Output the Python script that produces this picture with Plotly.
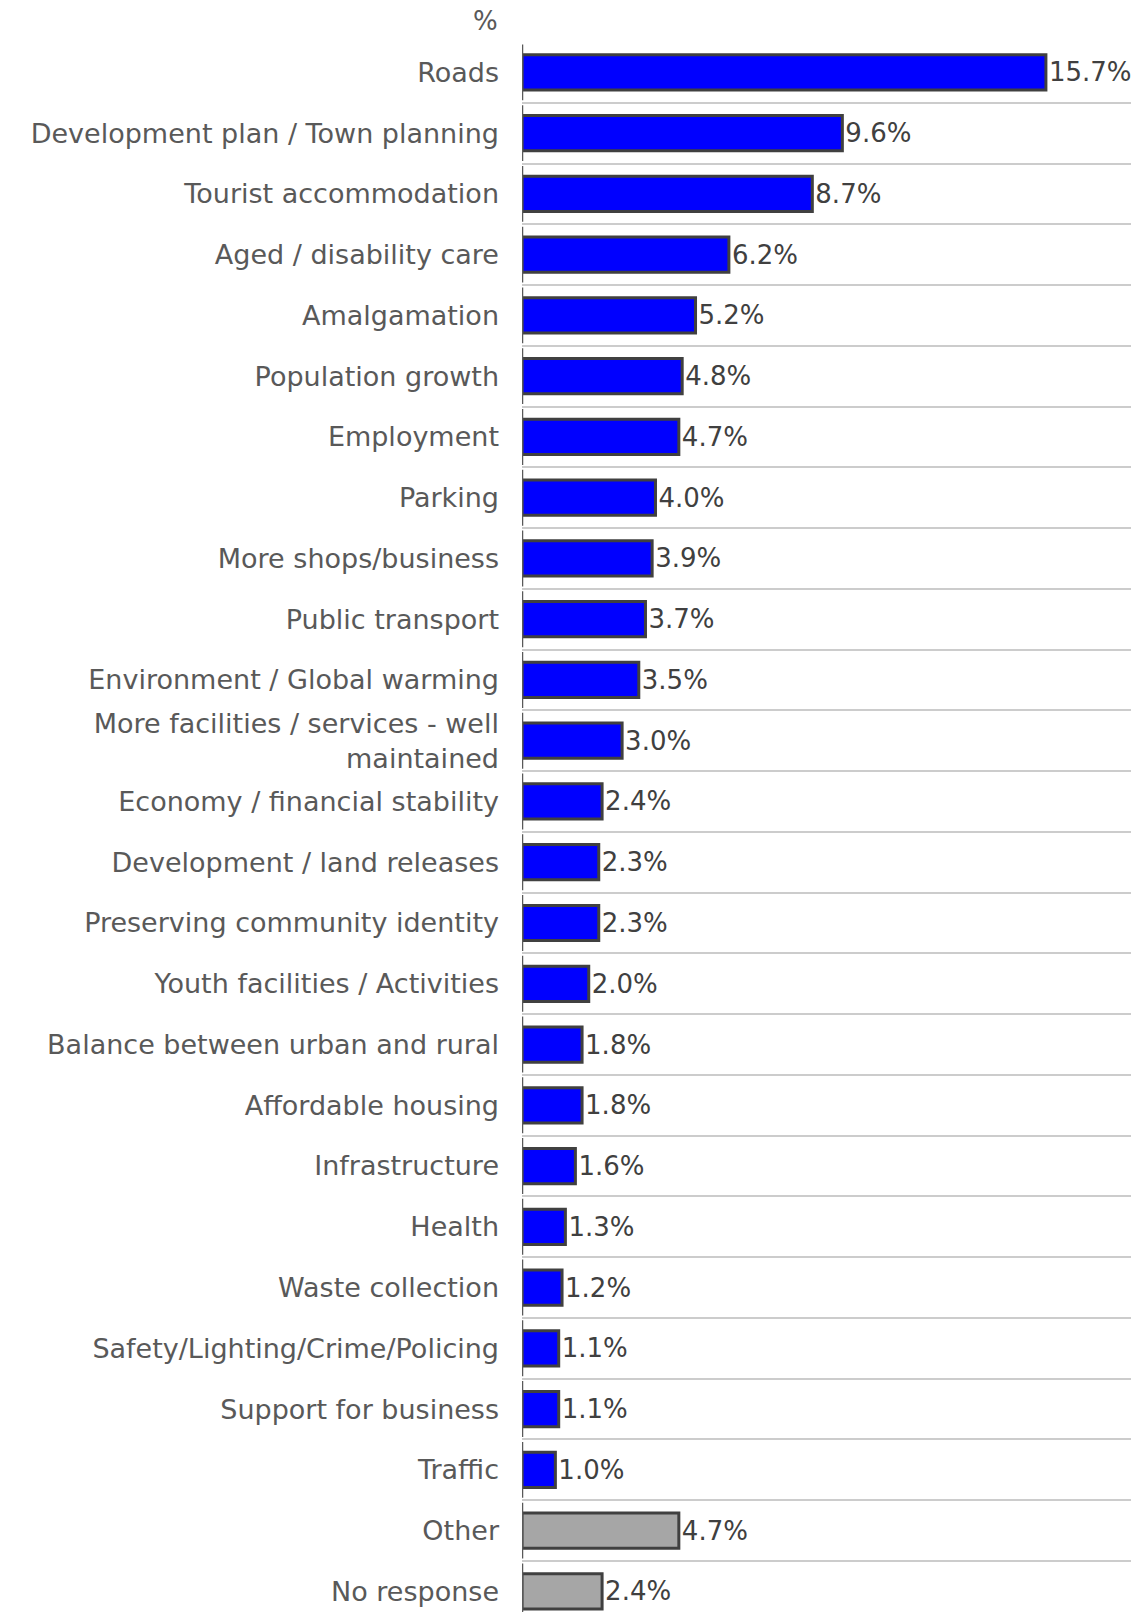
import plotly.graph_objects as go

categories = [
    "Roads", "Development plan / Town planning", "Tourist accommodation",
    "Aged / disability care", "Amalgamation", "Population growth", "Employment",
    "Parking", "More shops/business", "Public transport",
    "Environment / Global warming", "More facilities / services - well<br>maintained",
    "Economy / financial stability", "Development / land releases",
    "Preserving community identity", "Youth facilities / Activities",
    "Balance between urban and rural", "Affordable housing", "Infrastructure",
    "Health", "Waste collection", "Safety/Lighting/Crime/Policing",
    "Support for business", "Traffic", "Other", "No response",
]
values = [15.7, 9.6, 8.7, 6.2, 5.2, 4.8, 4.7, 4.0, 3.9, 3.7, 3.5, 3.0, 2.4, 2.3,
          2.3, 2.0, 1.8, 1.8, 1.6, 1.3, 1.2, 1.1, 1.1, 1.0, 4.7, 2.4]
gray_categories = ["Other", "No response"]

colors = ["#A6A6A6" if c in gray_categories else "#0000FF" for c in categories]
labels = [f"{v:.1f}%" for v in values]

FONT = "DejaVu Sans"
TXT = "#595959"
SIZE = 26

fig = go.Figure(go.Bar(
    x=values, y=categories, orientation="h",
    marker=dict(color=colors, line=dict(color="#404040", width=3)),
    text=labels, textposition="outside", cliponaxis=False,
    textfont=dict(family=FONT, size=SIZE, color="#404040"),
    hoverinfo="skip",
))

n = len(categories)
shapes = []
for i in range(n):
    shapes.append(dict(type="line", xref="x", yref="y", x0=0, x1=0,
                       y0=i - 0.46, y1=i + 0.46,
                       line=dict(color="#595959", width=2.5), layer="above"))

fig.update_layout(
    width=1135, height=1612,
    margin=dict(l=522, r=4, t=42, b=0),
    paper_bgcolor="white", plot_bgcolor="white",
    bargap=0.42, showlegend=False,
    shapes=shapes,
    font=dict(family=FONT, size=SIZE, color=TXT),
    xaxis=dict(range=[0, 18.25], visible=False, showgrid=False, zeroline=False),
    yaxis=dict(
        type="category", range=[25.34, -0.5],
        tickson="boundaries", showgrid=True, gridcolor="#CCCCCC", gridwidth=1.5,
        showline=False, ticks="", ticklabelstandoff=22,
        tickfont=dict(family=FONT, size=27, color=TXT),
    ),
    annotations=[dict(text="%", xref="paper", yref="paper", x=0, y=1,
                      xanchor="right", yanchor="middle", xshift=-22, yshift=21,
                      showarrow=False, font=dict(family=FONT, size=SIZE, color=TXT))],
)

fig.write_html("out.html", config={"displayModeBar": False},
               post_script="document.body.style.margin='0';document.body.style.overflow='hidden';")
